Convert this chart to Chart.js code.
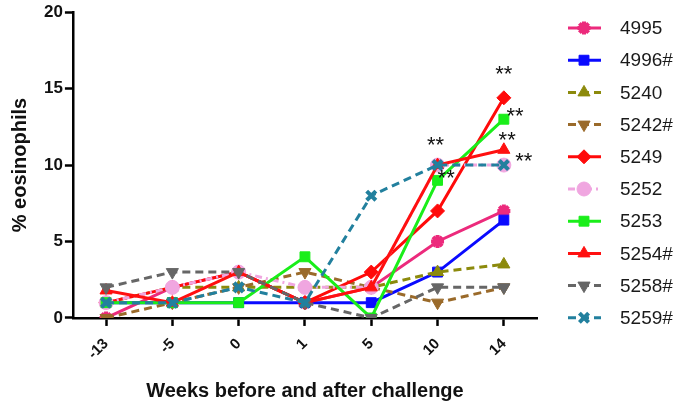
<!DOCTYPE html>
<html>
<head>
<meta charset="utf-8">
<script src="https://cdn.jsdelivr.net/npm/chart.js@4.4.1/dist/chart.umd.min.js"></script>
<style>
  html, body { margin: 0; padding: 0; background: #fff; }
</style>
</head>
<body>
<canvas id="chart" width="691" height="411"></canvas>
<script>
// % eosinophils per animal, weeks relative to challenge
const weeks = ["-13", "-5", "0", "1", "5", "10", "14"];
const s4995 = [0, 2, 3, 1, 2, 5, 7];
const s4996 = [1, 1, 1, 1, 1, 3, 6.4];
const s5240 = [1, 2, 2, 2, 2, 3, 3.5];
const s5242 = [0, 1, 2, 3, 2, 1, 2];
const s5249 = [1, 2, 3, 1, 3, 7, 14.4];
const s5252 = [1, 2, 3, 2, 2, 10, 10];
const s5253 = [1, 1, 1, 4, 0, 9, 13];
const s5254 = [1.8, 1, 3, 1, 2, 10, 11];
const s5258 = [2, 3, 3, 1, 0, 2, 2];
const s5259 = [1, 1, 2, 1, 8, 10, 10];

// "**" significance marks (category index, % value)
const sigX = [6, 6.17, 6.05, 6.3, 4.97, 5.13];
const sigY = [16.2, 13.5, 11.9, 10.5, 11.6, 9.4];

let seriesCount = 0;
function series(label, data, color, style, opts = {}) {
  seriesCount++;
  return Object.assign({
    label, data,
    order: 20 - seriesCount, // later series sit on top, as in the original
    borderColor: color,
    backgroundColor: color,
    pointBackgroundColor: color,
    pointBorderColor: color,
    pointStyle: style,
    pointRadius: 7,
    pointBorderWidth: 1,
    borderWidth: 3,
    tension: 0,
    fill: false,
  }, opts);
}

const dash = [8, 5];

const sideLegend = {
  id: "sideLegend",
  afterDraw(chart) {
    const ctx = chart.ctx;
    const x0 = chart.chartArea.right + 31;
    chart.data.datasets.forEach((ds, i) => {
      const y = 28 + i * 32.2;
      ctx.save();
      ctx.strokeStyle = ds.borderColor;
      ctx.lineWidth = 3;
      ctx.setLineDash(ds.borderDash || []);
      ctx.beginPath();
      ctx.moveTo(x0, y);
      ctx.lineTo(x0 + 33, y);
      ctx.stroke();
      ctx.setLineDash([]);
      ctx.fillStyle = ds.pointBackgroundColor;
      ctx.strokeStyle = ds.pointBorderColor;
      ctx.lineWidth = ds.pointBorderWidth;
      Chart.helpers.drawPoint(ctx, {
        pointStyle: ds.pointStyle,
        rotation: ds.pointRotation || 0,
        radius: ds.pointRadius,
        borderWidth: ds.pointBorderWidth,
      }, x0 + 16, y);
      ctx.fillStyle = "#1a1a1a";
      ctx.font = "19px Arial, 'Liberation Sans', sans-serif";
      ctx.textBaseline = "middle";
      ctx.textAlign = "left";
      ctx.fillText(ds.label, x0 + 52, y + 1);
      ctx.restore();
    });
  },
};

const sigMarks = {
  id: "sigMarks",
  afterDatasetsDraw(chart) {
    const ctx = chart.ctx;
    const xs = chart.scales.x, ys = chart.scales.y;
    ctx.save();
    ctx.fillStyle = "#111";
    ctx.font = "22px Arial, 'Liberation Sans', sans-serif";
    ctx.textAlign = "center";
    ctx.textBaseline = "middle";
    sigX.forEach((xv, i) => {
      ctx.fillText("**", xs.getPixelForValue(xv), ys.getPixelForValue(sigY[i]) + 5);
    });
    ctx.restore();
  },
};

new Chart(document.getElementById("chart"), {
  type: "line",
  data: {
    labels: weeks,
    datasets: [
      series("4995", s4995, "#ec2a7c", "star", { pointBorderWidth: 4, pointRadius: 6.5 }),
      series("4996#", s4996, "#0a0aff", "rect"),
      series("5240", s5240, "#8c8a0c", "triangle", { borderDash: dash }),
      series("5242#", s5242, "#9a6a2a", "triangle", { borderDash: dash, pointRotation: 180 }),
      series("5249", s5249, "#ff0a0a", "rectRot"),
      series("5252", s5252, "#f0a6e0", "circle", { borderDash: [7, 4, 2, 4] }),
      series("5253", s5253, "#1aee1a", "rect"),
      series("5254#", s5254, "#ff1010", "triangle"),
      series("5258#", s5258, "#666666", "triangle", { borderDash: dash, pointRotation: 180 }),
      series("5259#", s5259, "#22809e", "crossRot", { borderDash: dash, pointBorderWidth: 4, pointRadius: 6.5 }),
    ],
  },
  options: {
    responsive: false,
    animation: false,
    layout: { padding: { top: 0, right: 154, left: 4, bottom: 4 } },
    plugins: { legend: { display: false }, tooltip: { enabled: false } },
    scales: {
      x: {
        offset: true,
        grid: { display: true, drawOnChartArea: false, tickLength: 8, tickWidth: 2.5, tickColor: "#000" },
        border: { color: "#000", width: 2.5 },
        ticks: {
          color: "#111",
          font: { family: "Arial, 'Liberation Sans', sans-serif", size: 15, weight: "bold" },
          minRotation: 45,
          maxRotation: 45,
          padding: 9,
        },
        title: {
          display: true,
          text: "Weeks before and after challenge",
          color: "#111",
          font: { family: "Arial, 'Liberation Sans', sans-serif", size: 20, weight: "bold" },
          padding: { top: 7 },
        },
      },
      y: {
        min: 0,
        max: 20,
        grid: { display: true, drawOnChartArea: false, tickLength: 8, tickWidth: 2.5, tickColor: "#000" },
        border: { color: "#000", width: 2.5 },
        ticks: {
          stepSize: 5,
          color: "#111",
          font: { family: "Arial, 'Liberation Sans', sans-serif", size: 17, weight: "bold" },
          padding: 2,
        },
        title: {
          display: true,
          text: "% eosinophils",
          color: "#111",
          font: { family: "Arial, 'Liberation Sans', sans-serif", size: 20, weight: "bold" },
          padding: { bottom: 10 },
        },
      },
    },
  },
  plugins: [sigMarks, sideLegend],
});
</script>
</body>
</html>
